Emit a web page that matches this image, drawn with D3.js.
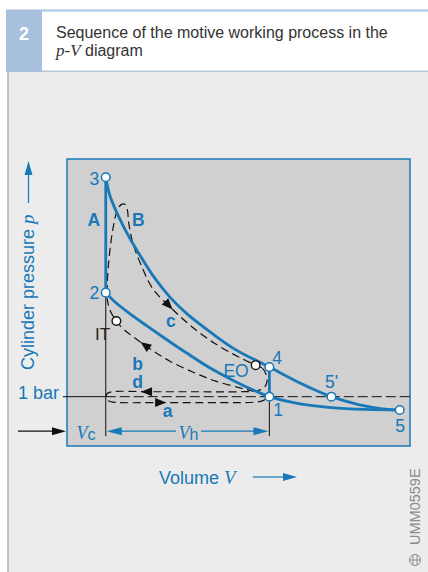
<!DOCTYPE html>
<html>
<head>
<meta charset="utf-8">
<script src="https://cdn.jsdelivr.net/npm/d3@7"></script>
<style>
  html, body { margin: 0; padding: 0; background: #fff; }
  svg { display: block; }
</style>
</head>
<body>
<svg id="chart"></svg>
<script>
// volume in relative units, pressure in bar
const volumeDomain = [0, 10];
const pressureDomain = [0, 5.82];
const ambientPressure = 1;
const clearanceVolume = 1.13;   // Vc
const totalVolume = 5.9;        // Vc + Vh

// state points of the ideal cycle
const pointLabels = ["1", "2", "3", "4", "5'", "5"];
const pointV = [5.9, 1.13, 1.13, 5.9, 7.71, 9.7];
const pointP = [1.0, 3.11, 5.45, 1.6, 1.0, 0.73];

// ideal expansion 3 -> 4 -> 5' -> 5
const expansionCurve = [
    [1.13, 5.45], [1.25, 5.08], [1.5, 4.66], [1.8, 4.25], [2.1, 3.9], [2.5, 3.46],
    [3.0, 3.02], [3.5, 2.68], [4.2, 2.3], [4.9, 1.96], [5.9, 1.6], [6.7, 1.31],
    [7.71, 1.0], [8.5, 0.84], [9.2, 0.755], [9.7, 0.73]
];

// ideal compression 1 -> 2, continued out to 5
const compressionCurve = [
    [1.13, 3.11], [1.4, 2.92], [1.8, 2.7], [2.3, 2.45], [2.9, 2.16], [3.5, 1.88],
    [4.2, 1.57], [4.9, 1.31], [5.45, 1.13], [5.9, 1.0], [6.75, 0.86], [7.7, 0.78],
    [8.7, 0.742], [9.7, 0.73]
];

// real working process (closed loop, starting at EO)
const realCycle = [
    [5.5, 1.64], [5.69, 1.58], [5.8, 1.46], [5.83, 1.3], [5.74, 1.18], [5.54, 1.12],
    [5.04, 1.1], [3.88, 1.1], [2.42, 1.1], [1.31, 1.1], [1.17, 1.065], [1.14, 0.99],
    [1.2, 0.92], [1.34, 0.89], [2.71, 0.88], [4.46, 0.88], [5.48, 0.89], [5.71, 0.92],
    [5.83, 0.98], [5.77, 1.045], [5.57, 1.085], [5.04, 1.18], [4.31, 1.32], [3.73, 1.48],
    [3.0, 1.72], [2.42, 1.97], [1.98, 2.19], [1.66, 2.36], [1.44, 2.535], [1.25, 2.76],
    [1.17, 3.0], [1.175, 3.27], [1.2, 3.61], [1.27, 4.08], [1.36, 4.48], [1.47, 4.79],
    [1.59, 4.9], [1.69, 4.9], [1.76, 4.79], [1.8, 4.52], [1.92, 4.12], [2.16, 3.67],
    [2.51, 3.18], [3.05, 2.79], [3.64, 2.42], [4.31, 2.08], [4.99, 1.81]
];

// ignition timing and exhaust opening on the real curve
const eventLabels = ["IT", "EO"];
const eventV = [1.44, 5.5];
const eventP = [2.535, 1.64];

// direction arrows on the real curve: tip and a point behind it
const arrowTips = [[3.08, 2.77], [2.14, 2.11], [2.16, 1.1], [2.89, 0.88]];
const arrowTails = [[2.51, 3.18], [2.42, 1.97], [3.0, 1.1], [2.4, 0.88]];

// phase letters (placed in data units)
const phaseLabels = ["A", "B", "a", "b", "c", "d"];
const phaseV = [0.78, 2.08, 2.93, 2.06, 3.03, 2.06];
const phaseP = [4.46, 4.46, 0.58, 1.54, 2.42, 1.17];

const blue = "#1878b8";
const sans = "'Liberation Sans', Arial, Helvetica, sans-serif";
const serif = "'Liberation Serif', 'Times New Roman', serif";

const svg = d3.select("#chart").attr("width", 428).attr("height", 572);
const box = { left: 67, top: 159, right: 410, bottom: 446 };

const x = d3.scaleLinear().domain(volumeDomain).range([box.left, box.right]);
const y = d3.scaleLinear().domain(pressureDomain).range([box.bottom, box.top]);

function arrowHead(g, tip, angle, len, wid, color) {
    g.append("path")
        .attr("d", `M0,0L${-len},${-wid / 2}L${-len},${wid / 2}Z`)
        .attr("transform", `translate(${tip[0]},${tip[1]}) rotate(${angle})`)
        .attr("fill", color);
}

// page background and heading
svg.append("rect").attr("width", 428).attr("height", 572).attr("fill", "#fff");
svg.append("rect").attr("x", 7).attr("y", 72).attr("width", 421).attr("height", 500).attr("fill", "#ebeceb");
svg.append("rect").attr("x", 7).attr("y", 72).attr("width", 2).attr("height", 500).attr("fill", "#c3c4c4");
svg.append("rect").attr("x", 6).attr("y", 9.5).attr("width", 422).attr("height", 2).attr("fill", "#a9c3e2");
svg.append("rect").attr("x", 6).attr("y", 70.5).attr("width", 422).attr("height", 1.5).attr("fill", "#b7c8dc");
svg.append("rect").attr("x", 6).attr("y", 10).attr("width", 36).attr("height", 62).attr("fill", "#a6c0de");

svg.append("text")
    .attr("x", 24).attr("y", 39.5)
    .attr("text-anchor", "middle")
    .style("font", `bold 18px ${sans}`)
    .attr("fill", "#fff")
    .text("2");

svg.append("text")
    .attr("x", 56).attr("y", 38)
    .style("font", `16px ${sans}`)
    .attr("fill", "#333")
    .text("Sequence of the motive working process in the");

const sub = svg.append("text")
    .attr("x", 56).attr("y", 56)
    .style("font", `16px ${sans}`)
    .attr("fill", "#333");
sub.append("tspan").style("font", `italic 17px ${serif}`).text("p-V");
sub.append("tspan").text(" diagram");

// plot frame
svg.append("rect")
    .attr("x", box.left).attr("y", box.top)
    .attr("width", box.right - box.left).attr("height", box.bottom - box.top)
    .attr("fill", "#d0d0d0")
    .attr("stroke", blue)
    .attr("stroke-width", 1.5);

const plot = svg.append("g");

// 1 bar line
plot.append("line")
    .attr("x1", x(-0.12)).attr("x2", x(clearanceVolume))
    .attr("y1", y(ambientPressure)).attr("y2", y(ambientPressure))
    .attr("stroke", "#111").attr("stroke-width", 1);
plot.append("line")
    .attr("x1", x(clearanceVolume)).attr("x2", x(volumeDomain[1]))
    .attr("y1", y(ambientPressure)).attr("y2", y(ambientPressure))
    .attr("stroke", "#111").attr("stroke-width", 1)
    .attr("stroke-dasharray", "10,4");

// thin verticals at TDC and BDC
[[clearanceVolume, pointP[1]], [totalVolume, pointP[0]]].forEach(d => {
    plot.append("line")
        .attr("x1", x(d[0])).attr("x2", x(d[0]))
        .attr("y1", y(d[1])).attr("y2", y(0.2))
        .attr("stroke", "#111").attr("stroke-width", 1);
});

// real process (dashed)
const line = d3.line()
    .x(d => x(d[0]))
    .y(d => y(d[1]));

plot.append("path")
    .datum(realCycle)
    .attr("d", line.curve(d3.curveCatmullRomClosed.alpha(0.5)))
    .attr("fill", "none")
    .attr("stroke", "#111")
    .attr("stroke-width", 1.2)
    .attr("stroke-dasharray", "8,4.5");

arrowTips.forEach((tip, i) => {
    const t = [x(tip[0]), y(tip[1])];
    const b = [x(arrowTails[i][0]), y(arrowTails[i][1])];
    const angle = Math.atan2(t[1] - b[1], t[0] - b[0]) * 180 / Math.PI;
    arrowHead(plot, t, angle, 11, 9, "#111");
});

// ideal cycle (blue)
const smooth = d3.line()
    .x(d => x(d[0]))
    .y(d => y(d[1]))
    .curve(d3.curveCatmullRom.alpha(0.5));

[expansionCurve, compressionCurve].forEach(c => {
    plot.append("path")
        .datum(c)
        .attr("d", smooth)
        .attr("fill", "none")
        .attr("stroke", blue)
        .attr("stroke-width", 2.8);
});

// isochoric steps 2-3 and 4-1
[[1, 2], [3, 0]].forEach(([a, b]) => {
    plot.append("line")
        .attr("x1", x(pointV[a])).attr("x2", x(pointV[b]))
        .attr("y1", y(pointP[a])).attr("y2", y(pointP[b]))
        .attr("stroke", blue)
        .attr("stroke-width", 2.8);
});

// event markers
plot.selectAll("circle.event")
    .data(eventLabels)
    .join("circle")
    .attr("class", "event")
    .attr("cx", (d, i) => x(eventV[i]))
    .attr("cy", (d, i) => y(eventP[i]))
    .attr("r", 4.3)
    .attr("fill", "#fff")
    .attr("stroke", "#111")
    .attr("stroke-width", 1.4);

plot.selectAll("circle.state")
    .data(pointLabels)
    .join("circle")
    .attr("class", "state")
    .attr("cx", (d, i) => x(pointV[i]))
    .attr("cy", (d, i) => y(pointP[i]))
    .attr("r", 4.3)
    .attr("fill", "#fff")
    .attr("stroke", blue)
    .attr("stroke-width", 1.5);

// point labels: dx, dy, anchor
const labelOffset = {
    "1": [4, 19, "start"],
    "2": [-6.5, 6.5, "end"],
    "3": [-6.5, 7.5, "end"],
    "4": [3, -3.5, "start"],
    "5'": [0, -8.4, "middle"],
    "5": [0.5, 22, "middle"]
};

plot.selectAll("text.state")
    .data(pointLabels)
    .join("text")
    .attr("class", "state")
    .attr("x", (d, i) => x(pointV[i]) + labelOffset[d][0])
    .attr("y", (d, i) => y(pointP[i]) + labelOffset[d][1])
    .attr("text-anchor", d => labelOffset[d][2])
    .style("font", `17.5px ${sans}`)
    .attr("fill", blue)
    .text(d => d);

plot.append("text")
    .attr("x", x(1.04)).attr("y", y(2.15))
    .attr("text-anchor", "middle")
    .style("font", `17px ${sans}`)
    .attr("fill", "#222")
    .text(eventLabels[0]);

plot.append("text")
    .attr("x", x(4.93)).attr("y", y(1.4))
    .attr("text-anchor", "middle")
    .style("font", `17.5px ${sans}`)
    .attr("fill", blue)
    .text(eventLabels[1]);

plot.selectAll("text.phase")
    .data(phaseLabels)
    .join("text")
    .attr("class", "phase")
    .attr("x", (d, i) => x(phaseV[i]))
    .attr("y", (d, i) => y(phaseP[i]))
    .attr("text-anchor", "middle")
    .style("font", `bold 17.5px ${sans}`)
    .attr("fill", blue)
    .text(d => d);

// Vc / Vh dimension
const dimY = y(0.3);
const xc = x(clearanceVolume), xt = x(totalVolume);
plot.append("line").attr("x1", xc + 10).attr("x2", 176).attr("y1", dimY).attr("y2", dimY)
    .attr("stroke", blue).attr("stroke-width", 1.2);
plot.append("line").attr("x1", 201).attr("x2", xt - 10).attr("y1", dimY).attr("y2", dimY)
    .attr("stroke", blue).attr("stroke-width", 1.2);
arrowHead(plot, [xc + 1, dimY], 180, 15, 8, blue);
arrowHead(plot, [xt - 1, dimY], 0, 15, 8, blue);

const vh = plot.append("text")
    .attr("x", 188.5).attr("y", dimY + 7.5)
    .attr("text-anchor", "middle")
    .attr("fill", blue);
vh.append("tspan").style("font", `italic 18px ${serif}`).text("V");
vh.append("tspan").style("font", `16px ${sans}`).attr("dy", 1.5).text("h");

const vc = plot.append("text")
    .attr("x", 86).attr("y", dimY + 7.5)
    .attr("text-anchor", "middle")
    .attr("fill", blue);
vc.append("tspan").style("font", `italic 18px ${serif}`).text("V");
vc.append("tspan").style("font", `16px ${sans}`).attr("dy", 1.5).text("c");

// black arrow into the frame
svg.append("line").attr("x1", 18).attr("x2", 54).attr("y1", dimY).attr("y2", dimY)
    .attr("stroke", "#111").attr("stroke-width", 1.2);
arrowHead(svg, [box.left - 1, dimY], 0, 14, 8, "#111");

// axis titles
const yTitle = svg.append("text")
    .attr("transform", "translate(33.5,370) rotate(-90)")
    .style("font", `18px ${sans}`)
    .attr("fill", blue);
yTitle.append("tspan").text("Cylinder pressure ");
yTitle.append("tspan").style("font", `italic 19px ${serif}`).text("p");

svg.append("line").attr("x1", 28.5).attr("x2", 28.5).attr("y1", 203).attr("y2", 172)
    .attr("stroke", blue).attr("stroke-width", 1.2);
arrowHead(svg, [28.5, 161], -90, 14, 8, blue);

svg.append("text")
    .attr("x", 18).attr("y", 398.5)
    .style("font", `18px ${sans}`)
    .attr("fill", blue)
    .text("1 bar");

const xTitle = svg.append("text")
    .attr("x", 159).attr("y", 484)
    .style("font", `18px ${sans}`)
    .attr("fill", blue);
xTitle.append("tspan").text("Volume ");
xTitle.append("tspan").style("font", `italic 19px ${serif}`).text("V");

svg.append("line").attr("x1", 253).attr("x2", 285).attr("y1", 477).attr("y2", 477)
    .attr("stroke", blue).attr("stroke-width", 1.2);
arrowHead(svg, [297, 477], 0, 14, 8, blue);

// figure code and logo
svg.append("text")
    .attr("transform", "translate(420,545) rotate(-90)")
    .style("font", `14.5px ${sans}`)
    .attr("fill", "#8a8a8a")
    .text("UMM0559E");

const logo = svg.append("g").attr("transform", "translate(415,560)")
    .attr("fill", "none").attr("stroke", "#8a8a8a").attr("stroke-width", 1);
logo.append("circle").attr("r", 5.5);
logo.append("line").attr("x1", -5.5).attr("x2", 5.5);
logo.append("line").attr("x1", -2).attr("x2", -2).attr("y1", -5).attr("y2", 5);
logo.append("line").attr("x1", 2).attr("x2", 2).attr("y1", -5).attr("y2", 5);
</script>
</body>
</html>
